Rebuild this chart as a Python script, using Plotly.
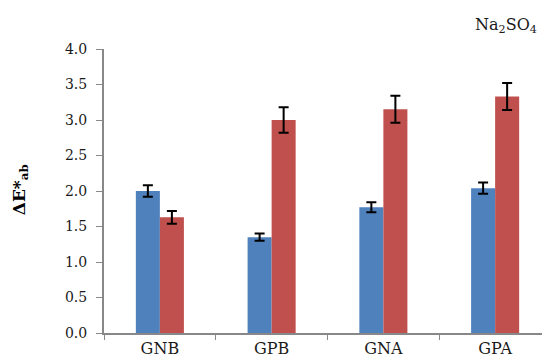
import plotly.graph_objects as go

categories = ["GNB", "GPB", "GNA", "GPA"]
blue_vals = [2.00, 1.35, 1.77, 2.04]
blue_err = [0.08, 0.05, 0.07, 0.08]
red_vals = [1.63, 3.00, 3.15, 3.33]
red_err = [0.09, 0.18, 0.19, 0.19]
y_ticks = [0.0, 0.5, 1.0, 1.5, 2.0, 2.5, 3.0, 3.5, 4.0]

font_family = "DejaVu Serif"
axis_color = "#888888"
text_color = "#1a1a1a"

fig = go.Figure()
fig.add_trace(go.Bar(
    x=categories, y=blue_vals, marker_color="#4F81BD", marker_line_width=0,
    error_y=dict(type="data", array=blue_err, visible=True, color="black", thickness=2, width=5),
))
fig.add_trace(go.Bar(
    x=categories, y=red_vals, marker_color="#C0504D", marker_line_width=0,
    error_y=dict(type="data", array=red_err, visible=True, color="black", thickness=2, width=5),
))

fig.update_layout(
    width=550, height=360,
    margin=dict(l=96, r=7, t=41, b=35),
    plot_bgcolor="white", paper_bgcolor="white",
    barmode="group", bargap=0.57, bargroupgap=0,
    showlegend=False,
    font=dict(family=font_family, size=14, color=text_color),
    xaxis=dict(
        showline=True, linecolor=axis_color, linewidth=1.5,
        ticks="outside", tickson="boundaries", ticklen=5, tickcolor=axis_color,
        showgrid=False, tickfont=dict(size=16, family=font_family), ticklabelstandoff=0,
    ),
    yaxis=dict(
        range=[0, 4.0], tickvals=y_ticks,
        ticktext=[f"{v:.1f}\u2005\u2009" for v in y_ticks],
        showline=True, linecolor=axis_color, linewidth=1.5,
        ticks="outside", ticklen=6, tickcolor=axis_color,
        showgrid=False, zeroline=False, tickfont=dict(size=14, family=font_family),
    ),
    annotations=[
        dict(
            text="Na<sub>2</sub>SO<sub>4</sub>", xref="paper", yref="paper",
            x=0.899, y=1.0, yshift=24, showarrow=False, xanchor="center", yanchor="middle",
            font=dict(size=16, color=text_color, family=font_family),
        ),
        dict(
            text="<b>ΔE*<sub>ab</sub></b>", xref="paper", yref="paper",
            x=-0.187, y=0.504, textangle=-90, showarrow=False, xanchor="center", yanchor="middle",
            font=dict(size=17, color="black", family=font_family),
        ),
    ],
)

fig.write_html("out.html")
